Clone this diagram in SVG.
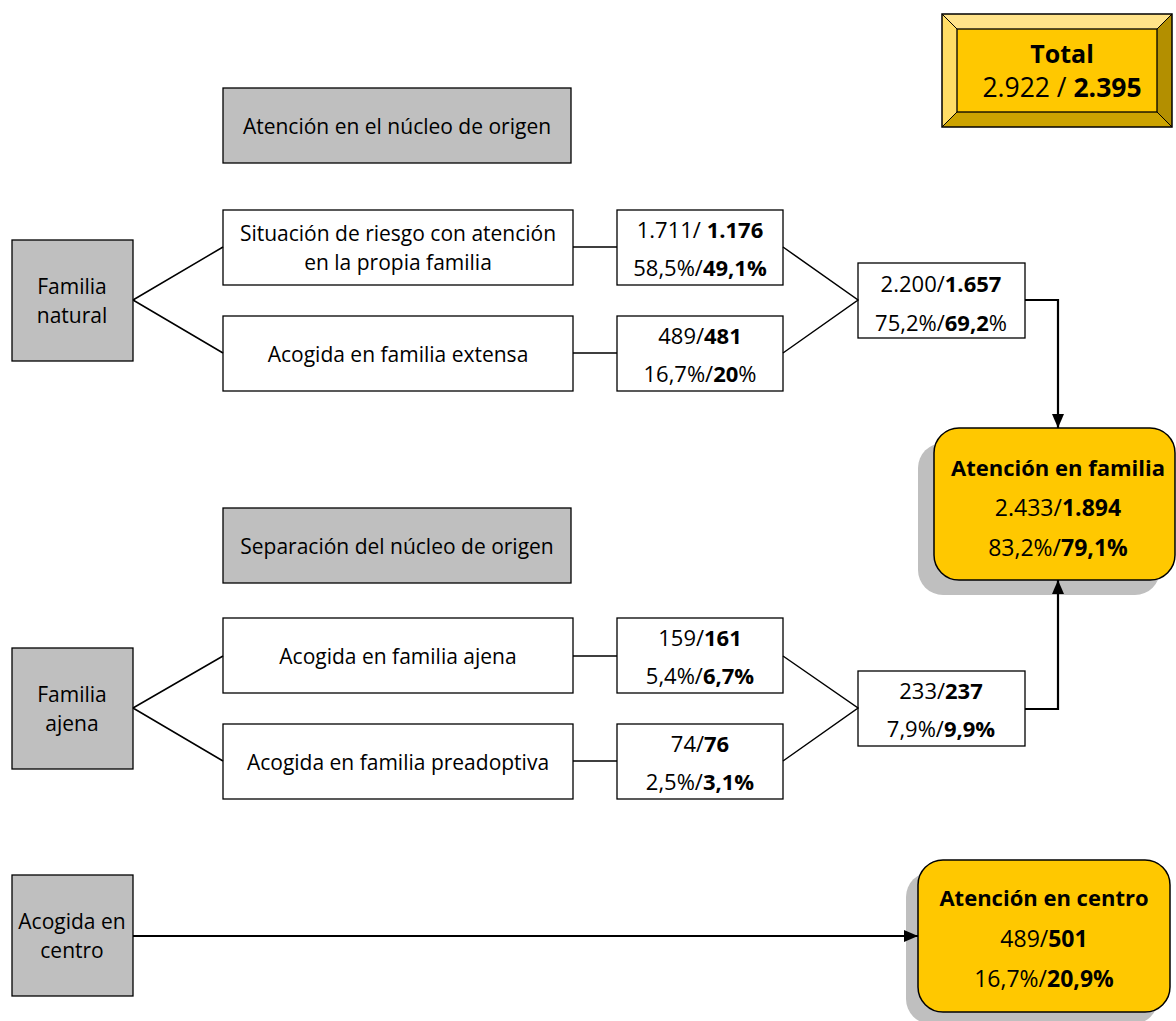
<svg xmlns="http://www.w3.org/2000/svg" width="1176" height="1021" viewBox="0 0 1176 1021">
<defs>
<marker id="arr" viewBox="0 0 14 12" refX="14" refY="6" markerWidth="14" markerHeight="12" markerUnits="userSpaceOnUse" orient="auto">
<path d="M0,0 L14,6 L0,12 Z" fill="#000"/>
</marker>
<style>
text{font-family:"Open Sans","Liberation Sans",sans-serif;font-size:21px;fill:#000;text-anchor:middle;dominant-baseline:central}
.b{font-weight:bold}
.num{font-size:22px}
.bnum{font-size:23px}
.head{font-size:22px;font-weight:bold}
.gray{fill:#BFBFBF;stroke:#000;stroke-width:1.3}
.wb{fill:#fff;stroke:#000;stroke-width:1.3}
.yel{fill:#FFC800;stroke:#000;stroke-width:1.5}
.shadow{fill:#BFBFBF}
.ln{fill:none;stroke:#000;stroke-width:1.5}
.ar{fill:none;stroke:#000;stroke-width:2.2}
</style>
</defs>
<rect width="1176" height="1021" fill="#fff"/>

<g id="total">
<polygon points="942,14 1172,14 1157,29 957,29" fill="#FFE38A"/>
<polygon points="942,14 957,29 957,112 942,127" fill="#FFDD66"/>
<polygon points="942,127 957,112 1157,112 1172,127" fill="#CCA300"/>
<polygon points="1172,14 1172,127 1157,112 1157,29" fill="#B38F00"/>
<rect x="957" y="29" width="200" height="83" fill="#FFC800" stroke="#000" stroke-width="1.3"/>
<rect x="942" y="14" width="230" height="113" fill="none" stroke="#000" stroke-width="1.5"/>
<path d="M942,14 L957,29 M1172,14 L1157,29 M942,127 L957,112 M1172,127 L1157,112" stroke="#000" stroke-width="1"/>
<text x="1062" y="53" class="b" style="font-size:25px">Total</text>
<text x="1062" y="87" style="font-size:26.5px">2.922 / <tspan class="b">2.395</tspan></text>
</g>

<g id="nucleo-origen">
<rect class="gray" x="223" y="88" width="348" height="75"/>
<text x="397" y="126">Atención en el núcleo de origen</text>
</g>

<g id="familia-natural">
<rect class="gray" x="12" y="240" width="121" height="121"/>
<text x="72" y="286">Familia</text>
<text x="72" y="315">natural</text>
</g>

<g id="situacion-riesgo">
<rect class="wb" x="223" y="210" width="350" height="75"/>
<text x="398" y="233">Situación de riesgo con atención</text>
<text x="398" y="262">en la propia familia</text>
</g>

<g id="familia-extensa">
<rect class="wb" x="223" y="316" width="350" height="75"/>
<text x="398" y="354">Acogida en familia extensa</text>
</g>

<g id="n-riesgo">
<rect class="wb" x="617" y="210" width="166" height="75"/>
<text x="700" y="229" class="num">1.711/ <tspan class="b">1.176</tspan></text>
<text x="700" y="267" class="num">58,5%/<tspan class="b">49,1%</tspan></text>
</g>

<g id="n-extensa">
<rect class="wb" x="617" y="316" width="166" height="75"/>
<text x="700" y="335" class="num">489/<tspan class="b">481</tspan></text>
<text x="700" y="373" class="num">16,7%/<tspan class="b">20</tspan>%</text>
</g>

<g id="n-natural">
<rect class="wb" x="858" y="263" width="167" height="75"/>
<text x="941" y="283" class="num">2.200/<tspan class="b">1.657</tspan></text>
<text x="941" y="322" class="num">75,2%/<tspan class="b">69,2</tspan>%</text>
</g>

<g id="atencion-familia">
<rect class="shadow" x="918" y="443" width="242" height="152" rx="25"/>
<rect class="yel" x="934" y="428" width="241" height="152" rx="25"/>
<text x="1058" y="467" class="head">Atención en familia</text>
<text x="1058" y="507" class="bnum">2.433/<tspan class="b">1.894</tspan></text>
<text x="1058" y="547" class="bnum">83,2%/<tspan class="b">79,1%</tspan></text>
</g>

<g id="separacion-origen">
<rect class="gray" x="223" y="508" width="348" height="75"/>
<text x="397" y="546">Separación del núcleo de origen</text>
</g>

<g id="familia-ajena">
<rect class="gray" x="12" y="648" width="121" height="121"/>
<text x="72" y="694">Familia</text>
<text x="72" y="723">ajena</text>
</g>

<g id="acogida-ajena">
<rect class="wb" x="223" y="618" width="350" height="75"/>
<text x="398" y="656">Acogida en familia ajena</text>
</g>

<g id="acogida-preadoptiva">
<rect class="wb" x="223" y="724" width="350" height="75"/>
<text x="398" y="762">Acogida en familia preadoptiva</text>
</g>

<g id="n-ajena">
<rect class="wb" x="617" y="618" width="166" height="75"/>
<text x="700" y="637" class="num">159/<tspan class="b">161</tspan></text>
<text x="700" y="675" class="num">5,4%/<tspan class="b">6,7%</tspan></text>
</g>

<g id="n-preadoptiva">
<rect class="wb" x="617" y="724" width="166" height="75"/>
<text x="700" y="743" class="num">74/<tspan class="b">76</tspan></text>
<text x="700" y="781" class="num">2,5%/<tspan class="b">3,1%</tspan></text>
</g>

<g id="n-ajena-total">
<rect class="wb" x="858" y="671" width="167" height="75"/>
<text x="941" y="690" class="num">233/<tspan class="b">237</tspan></text>
<text x="941" y="728" class="num">7,9%/<tspan class="b">9,9%</tspan></text>
</g>

<g id="acogida-centro">
<rect class="gray" x="12" y="875" width="121" height="121"/>
<text x="72" y="921">Acogida en</text>
<text x="72" y="950">centro</text>
</g>

<g id="atencion-centro">
<rect class="shadow" x="906" y="872" width="252" height="152" rx="25"/>
<rect class="yel" x="918" y="860" width="252" height="152" rx="25"/>
<text x="1044" y="897" class="head">Atención en centro</text>
<text x="1044" y="938" class="bnum">489/<tspan class="b">501</tspan></text>
<text x="1044" y="978" class="bnum">16,7%/<tspan class="b">20,9%</tspan></text>
</g>

<g id="connectors">
<path class="ln" d="M133,300 L223,247 M133,300 L223,353"/>
<path class="ln" d="M573,247 L617,247 M573,353 L617,353"/>
<path class="ln" d="M783,247 L858,300 L783,353"/>
<path class="ar" d="M1025,300 L1058,300 L1058,428" marker-end="url(#arr)"/>
<path class="ln" d="M133,708 L223,656 M133,708 L223,761"/>
<path class="ln" d="M573,656 L617,656 M573,761 L617,761"/>
<path class="ln" d="M783,656 L858,708 L783,761"/>
<path class="ar" d="M1025,709 L1058,709 L1058,580" marker-end="url(#arr)"/>
<path class="ar" d="M133,936 L918,936" marker-end="url(#arr)"/>
</g>
</svg>
